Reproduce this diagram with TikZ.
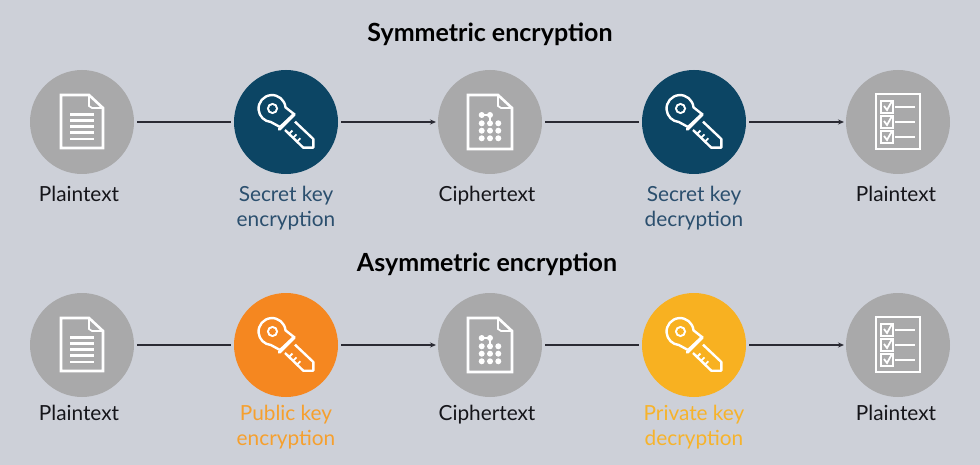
\documentclass[tikz,border=0pt]{standalone}
\usepackage{fontspec}
\setmainfont{Lato}
\usetikzlibrary{arrows.meta}
\definecolor{bgc}{HTML}{CDD0D8}
\definecolor{greyc}{HTML}{A9A9AA}
\definecolor{bluec}{HTML}{0C4564}
\definecolor{orangec}{HTML}{F58720}
\definecolor{yellowc}{HTML}{F8B121}
\definecolor{bluet}{HTML}{2B4F6E}
\definecolor{oranget}{HTML}{F6A02E}
\definecolor{yellowt}{HTML}{F7B32B}
\definecolor{linec}{HTML}{2A2A33}
\definecolor{textc}{HTML}{15151A}
\tikzset{
  x=1pt,y=-1pt,
  disc/.style={circle,minimum size=104pt,inner sep=0pt,outer sep=0pt,fill=#1},
  lab/.style={font=\fontsize{20.8}{24.8}\selectfont,align=center,text=#1,anchor=north,inner sep=0pt},
  ttl/.style={font=\fontsize{25}{30}\selectfont\bfseries,text=black,inner sep=0pt},
  link/.style={draw=linec,line width=1.1pt,shorten <=3pt,shorten >=3pt},
  arr/.style={link,-{Stealth[length=6pt,width=5pt]},shorten >=2pt},
  ico/.style={draw=white,line width=2.6pt,fill=none,line join=miter},
  docicon/.pic={
    \draw[ico] (-21,-27) -- (7,-27) -- (21,-14) -- (21,26) -- (-21,26) -- cycle;
    \draw[ico,line width=1.8pt] (7,-27) -- (7,-16) -- (10,-14) -- (21,-14);
    \foreach \yy in {-7.7,-1.3,4.7,10.7,17} \draw[ico] (-12,\yy) -- (12,\yy);
  },
  cipicon/.pic={
    \draw[ico] (-22,-27) -- (8,-27) -- (22,-14) -- (22,27) -- (-22,27) -- cycle;
    \draw[ico,line width=1.8pt] (8,-27) -- (8,-16) -- (11,-14) -- (22,-14);
    \foreach \xx/\yy in {-8.3/-7,0/-7,-8.3/1.3,0/1.3,8.3/1.3,-8.3/8.7,0/8.7,8.3/8.7,-8.3/16.3,0/16.3,8.3/16.3}
      \fill[white] (\xx,\yy) circle[radius=3pt];
    \draw[white,line width=1.2pt] (-8.3,-7) -- (0,-7) -- (0,1.3);
  },
  listicon/.pic={
    \draw[ico] (-22,-28) rectangle (22,27);
    \foreach \yy in {-15,0,15}{
      \draw[ico,line width=2.2pt] (-17,\yy-6) rectangle (-5,\yy+6);
      \draw[ico,line width=1.8pt] (-14,\yy-1) -- (-11,\yy+3) -- (-6,\yy-6);
      \draw[ico,line width=2.2pt] (-3,\yy) -- (17,\yy);
    }
  },
  keyicon/.pic={
    \draw[ico,line width=2.4pt,line join=round]
      (-0.5,-14.6) arc[start angle=-5,end angle=-265,radius=13.5]
      -- (-6,5) -- (8,-8) -- cycle;
    \draw[ico,line width=3.2pt,line cap=round] (-6.7,7.3) -- (8.3,-7.7);
    \draw[ico,line width=2.4pt,line join=round] (9,-0.3) -- (27.3,17) -- (27.3,25.7) -- (17.3,25.7) -- (-1,8);
    \fill[white] (-13.5,-13.5) circle[radius=5.6pt];
    \fill[keyfill] (-13.5,-13.5) circle[radius=3.4pt];
    \foreach \xx/\yy in {3/12,7/15.8,11/19.6}
      \draw[ico,line width=1.8pt] (\xx,\yy) -- (\xx+3.4,\yy-3.4);
  }
}
\colorlet{keyfill}{bluec}
\begin{document}
\begin{tikzpicture}
\useasboundingbox (0,0) rectangle (980,465);
\fill[bgc] (0,0) rectangle (980,465);
\node[ttl] (t1) at (490,34.5) {Symmetric encryption};
\node[ttl] (t2) at (487,264.5) {Asymmetric encryption};
% row 1
\node[disc=greyc]  (a1) at (82,122) {};
\node[disc=bluec]  (a2) at (286,122) {};
\node[disc=greyc]  (a3) at (490,122) {};
\node[disc=bluec]  (a4) at (694,122) {};
\node[disc=greyc]  (a5) at (898,122) {};
% row 2
\node[disc=greyc]  (b1) at (82,345) {};
\node[disc=orangec] (b2) at (286,345) {};
\node[disc=greyc]  (b3) at (490,345) {};
\node[disc=yellowc] (b4) at (694,345) {};
\node[disc=greyc]  (b5) at (898,345) {};
\foreach \r in {a,b}{
  \pic at (\r1) {docicon};
  \pic at (\r3) {cipicon};
  \pic at (\r5) {listicon};
  \draw[link] (\r1) -- (\r2);
  \draw[arr]  (\r2) -- (\r3);
  \draw[link] (\r3) -- (\r4);
  \draw[arr]  (\r4) -- (\r5);
}
\pic at (a2) {keyicon};
\pic at (a4) {keyicon};
\colorlet{keyfill}{orangec}
\pic at (b2) {keyicon};
\colorlet{keyfill}{yellowc}
\pic at (b4) {keyicon};
\node[lab=textc] (la1) at (79,186) {Plaintext};
\node[lab=bluet] (la2) at (286,186) {Secret key\\encryption};
\node[lab=textc] (la3) at (487,186) {Ciphertext};
\node[lab=bluet] (la4) at (694,186) {Secret key\\decryption};
\node[lab=textc] (la5) at (896,186) {Plaintext};
\node[lab=textc] (lb1) at (79,405) {Plaintext};
\node[lab=oranget] (lb2) at (286,405) {Public key\\encryption};
\node[lab=textc] (lb3) at (487,405) {Ciphertext};
\node[lab=yellowt] (lb4) at (694,405) {Private key\\decryption};
\node[lab=textc] (lb5) at (896,405) {Plaintext};
\end{tikzpicture}
\end{document}
